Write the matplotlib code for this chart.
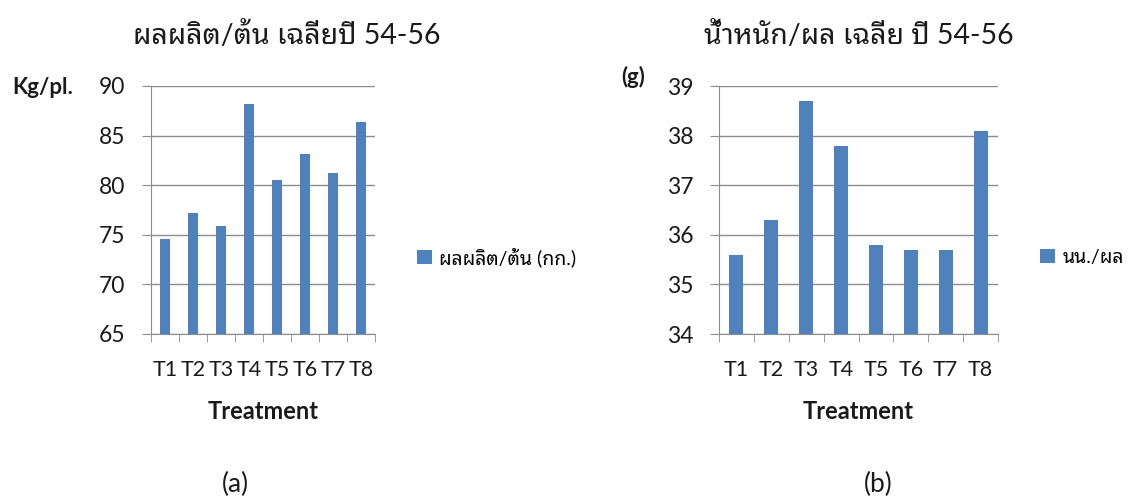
import numpy as np
import matplotlib
matplotlib.use("Agg")
import matplotlib.pyplot as plt

plt.rcParams['font.family'] = ['Lato', 'Noto Sans Thai Looped', 'DejaVu Sans']

treatments = ['T1', 'T2', 'T3', 'T4', 'T5', 'T6', 'T7', 'T8']
yield_per_tree = [74.6, 77.2, 75.9, 88.2, 80.5, 83.1, 81.2, 86.4]
fruit_weight = [35.6, 36.3, 38.7, 37.8, 35.8, 35.7, 35.7, 38.1]

bar_color = '#4F81BD'
grid_color = '#8C8C8C'
text_color = '#1a1a1a'

fig = plt.figure(figsize=(11.28, 5.01), dpi=100)
W, H = 1128, 501


def panel(rect, values, ylim, step, width, title, ylab, ylab_xy, legend, leg_xy, caption, cap_x, title_x):
    ax = fig.add_axes([rect[0] / W, 1 - rect[3] / H, (rect[2] - rect[0]) / W, (rect[3] - rect[1]) / H])
    x = np.arange(len(values))
    bars = ax.bar(x, values, width=width, color=bar_color, zorder=3, label=legend)
    ax.set_xlim(-0.5, len(values) - 0.5)
    ax.set_ylim(*ylim)
    ax.set_yticks(np.arange(ylim[0], ylim[1] + step / 2, step))
    ax.yaxis.grid(True, color=grid_color, linewidth=1)
    ax.set_axisbelow(True)
    for s in ['top', 'right']:
        ax.spines[s].set_visible(False)
    for s in ['left', 'bottom']:
        ax.spines[s].set_color(grid_color)
    ax.set_xticks(x)
    ax.set_xticklabels(treatments)
    ax.set_xticks(np.arange(-0.5, len(values)), minor=True)
    ax.tick_params(axis='x', which='major', length=0, pad=19, labelsize=15.5, labelcolor=text_color)
    ax.tick_params(axis='x', which='minor', length=6, color=grid_color)
    ax.tick_params(axis='y', length=6.5, color=grid_color, labelsize=16.5, pad=12, labelcolor=text_color)
    ax.set_xlabel('Treatment', fontsize=17, fontweight='bold', color=text_color, labelpad=14)
    fig.text(title_x / W, 1 - 35 / H, title, ha='center', va='center', fontsize=20.5, color=text_color)
    fig.text(ylab_xy[0] / W, 1 - ylab_xy[1] / H, ylab, ha='left', va='center', fontsize=16,
             fontweight='bold', color=text_color)
    fig.legend(handles=[bars], labels=[legend], loc='center left',
               bbox_to_anchor=(leg_xy[0] / W, 1 - leg_xy[1] / H), frameon=False,
               fontsize=14, handlelength=0.75, handleheight=0.75, handletextpad=0.4,
               borderpad=0, borderaxespad=0)
    fig.text(cap_x / W, 1 - 484 / H, caption, ha='center', va='center', fontsize=19, color=text_color)
    return ax


panel((151, 86, 375, 334), yield_per_tree, (65, 90), 5, 0.37,
      'ผลผลิต/ต้น เฉลี่ยปี 54-56', 'Kg/pl.', (12, 88),
      'ผลผลิต/ต้น (กก.)', (417, 257), '(a)', 235, 287)
panel((719, 86, 998, 334), fruit_weight, (34, 39), 1, 0.4,
      'น้ำหนัก/ผล เฉลี่ย ปี 54-56', '(g)', (621, 77),
      'นน./ผล', (1040, 257), '(b)', 878, 859)

fig.savefig('out.png', dpi=100)
